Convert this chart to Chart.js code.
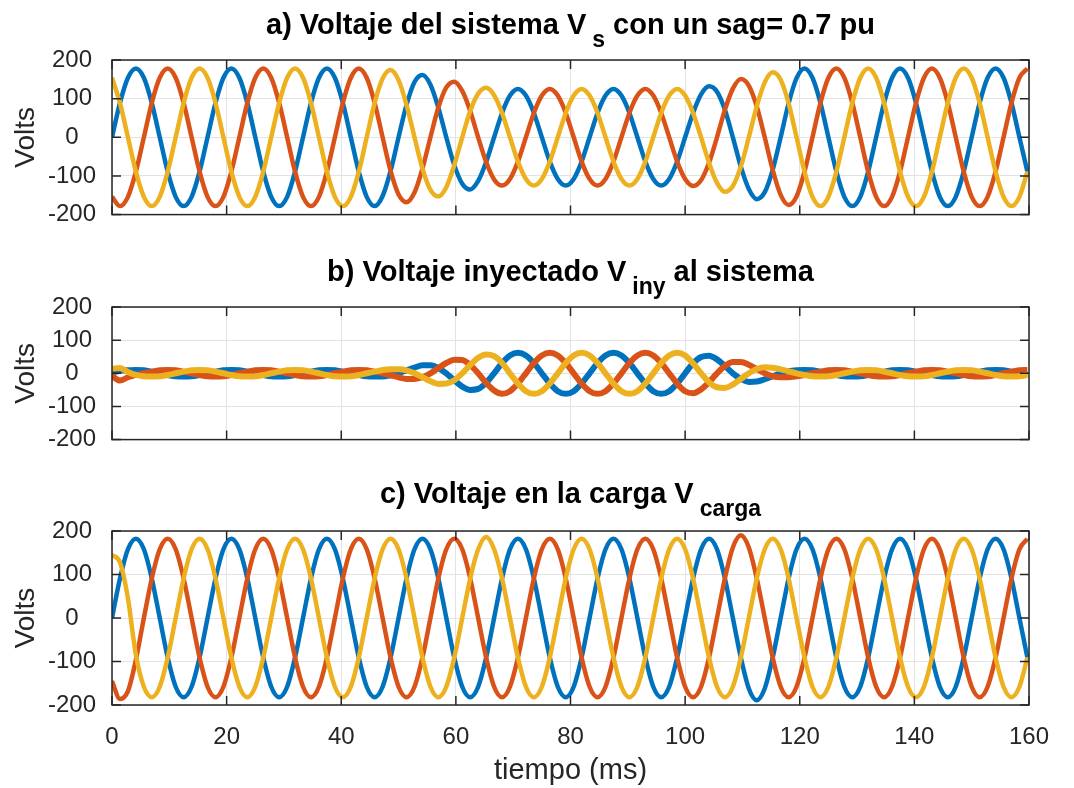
<!DOCTYPE html>
<html>
<head>
<meta charset="utf-8">
<script src="https://cdn.jsdelivr.net/npm/chart.js@4.4.1/dist/chart.umd.min.js"></script>
<style>
  body { margin: 0; background: #fff; }
  #wrap { position: relative; width: 1074px; height: 788px; overflow: hidden; }
  canvas { position: absolute; left: 0; }
  .ttl {
    position: absolute; left: 112px; width: 917px; text-align: center;
    font: bold 29px "Liberation Sans", Arial, sans-serif; line-height: 29px;
    color: #000; white-space: nowrap; z-index: 2;
  }
  .ttl sub { font-size: 23px; vertical-align: -13px; line-height: 0; margin-left: 6px; }
</style>
</head>
<body>
<div id="wrap">
  <div class="ttl" style="top:10px">a) Voltaje del sistema V<sub>s</sub> con un sag= 0.7 pu</div>
  <div class="ttl" style="top:257px">b) Voltaje inyectado V<sub>iny</sub> al sistema</div>
  <div class="ttl" style="top:479px">c) Voltaje en la carga V<sub>carga</sub></div>
  <canvas id="chartA" width="1074" height="245" style="top:0px"></canvas>
  <canvas id="chartB" width="1074" height="225" style="top:245px"></canvas>
  <canvas id="chartC" width="1074" height="318" style="top:470px"></canvas>
</div>
<script>
// time samples (ms), every 30 degrees of a 60 Hz cycle
const T = [0, 1.39, 2.78, 4.17, 5.56, 6.94, 8.33, 9.72, 11.11, 12.5, 13.89, 15.28,
  16.67, 18.06, 19.44, 20.83, 22.22, 23.61, 25, 26.39, 27.78, 29.17, 30.56, 31.94,
  33.33, 34.72, 36.11, 37.5, 38.89, 40.28, 41.67, 43.06, 44.44, 45.83, 47.22, 48.61,
  50, 51.39, 52.78, 54.17, 55.56, 56.94, 58.33, 59.72, 61.11, 62.5, 63.89, 65.28,
  66.67, 68.06, 69.44, 70.83, 72.22, 73.61, 75, 76.39, 77.78, 79.17, 80.56, 81.94,
  83.33, 84.72, 86.11, 87.5, 88.89, 90.28, 91.67, 93.06, 94.44, 95.83, 97.22, 98.61,
  100, 101.39, 102.78, 104.17, 105.56, 106.94, 108.33, 109.72, 111.11, 112.5, 113.89, 115.28,
  116.67, 118.06, 119.44, 120.83, 122.22, 123.61, 125, 126.39, 127.78, 129.17, 130.56, 131.94,
  133.33, 134.72, 136.11, 137.5, 138.89, 140.28, 141.67, 143.06, 144.44, 145.83, 147.22, 148.61,
  150, 151.39, 152.78, 154.17, 155.56, 156.94, 158.33, 159.72];

// a) source voltage (sag)
const vsA = [0, 89, 154, 178, 154, 89, 0, -89, -154, -178, -154, -89,
  0, 89, 154, 178, 154, 89, 0, -89, -154, -178, -154, -89,
  0, 89, 154, 178, 154, 89, 0, -89, -154, -178, -152, -87,
  0, 84, 143, 161, 136, 77, 0, -72, -120, -135, -113, -64,
  0, 63, 108, 125, 108, 63, 0, -63, -108, -125, -108, -63,
  0, 63, 108, 125, 108, 63, 0, -63, -108, -125, -108, -63,
  0, 63, 111, 132, 118, 71, 0, -76, -134, -160, -142, -84,
  0, 88, 153, 178, 154, 89, 0, -89, -154, -178, -154, -89,
  0, 89, 154, 178, 154, 89, 0, -89, -154, -178, -154, -89,
  0, 89, 154, 178, 154, 89, 0, -89];
const vsB = [-154, -178, -154, -89, 0, 89, 154, 178, 154, 89, 0, -89,
  -154, -178, -154, -89, 0, 89, 154, 178, 154, 89, 0, -89,
  -154, -178, -154, -89, 0, 89, 154, 178, 154, 89, 0, -87,
  -148, -168, -143, -81, 0, 77, 129, 144, 120, 68, 0, -64,
  -109, -125, -108, -63, 0, 63, 108, 125, 108, 63, 0, -63,
  -108, -125, -108, -63, 0, 63, 108, 125, 108, 63, 0, -63,
  -108, -126, -111, -66, 0, 71, 126, 151, 134, 80, 0, -84,
  -149, -175, -153, -89, 0, 89, 154, 178, 154, 89, 0, -89,
  -154, -178, -154, -89, 0, 89, 154, 178, 154, 89, 0, -89,
  -154, -178, -154, -89, 0, 89, 154, 178];
const vsC = [154, 89, 0, -89, -154, -178, -154, -89, 0, 89, 154, 178,
  154, 89, 0, -89, -154, -178, -154, -89, 0, 89, 154, 178,
  154, 89, 0, -89, -154, -178, -154, -89, 0, 89, 152, 174,
  148, 84, 0, -81, -136, -153, -129, -72, 0, 68, 113, 128,
  109, 63, 0, -63, -108, -125, -108, -63, 0, 63, 108, 125,
  108, 63, 0, -63, -108, -125, -108, -63, 0, 63, 108, 125,
  108, 63, 0, -66, -118, -141, -126, -76, 0, 80, 142, 168,
  149, 88, 0, -89, -154, -178, -154, -89, 0, 89, 154, 178,
  154, 89, 0, -89, -154, -178, -154, -89, 0, 89, 154, 178,
  154, 89, 0, -89, -154, -178, -154, -89];

// b) injected voltage
const viA = [2, 8, 9, 10, 9, 5, 0, -5, -9, -10, -9, -5,
  0, 5, 9, 10, 9, 5, 0, -5, -9, -10, -9, -5,
  0, 5, 9, 10, 9, 5, 0, -5, -9, -10, -10, -6,
  0, 9, 17, 24, 24, 16, 0, -21, -40, -50, -47, -29,
  0, 31, 54, 62, 54, 31, 0, -31, -54, -62, -54, -31,
  0, 31, 54, 62, 54, 31, 0, -31, -54, -62, -54, -31,
  0, 30, 49, 53, 42, 22, 0, -17, -26, -25, -18, -9,
  0, 6, 9, 10, 9, 5, 0, -5, -9, -10, -9, -5,
  0, 5, 9, 10, 9, 5, 0, -5, -9, -10, -9, -5,
  0, 5, 9, 10, 9, 5, 0, -5];
const viB = [-8, -22, -12, -5, 0, 5, 9, 10, 9, 5, 0, -5,
  -9, -10, -9, -5, 0, 5, 9, 10, 9, 5, 0, -5,
  -9, -10, -9, -5, 0, 5, 9, 10, 9, 5, 0, -6,
  -12, -17, -17, -12, 0, 16, 31, 41, 40, 25, 0, -29,
  -52, -62, -54, -31, 0, 31, 54, 62, 54, 31, 0, -31,
  -54, -62, -54, -31, 0, 31, 54, 62, 54, 31, 0, -31,
  -54, -60, -49, -27, 0, 22, 34, 34, 26, 13, 0, -9,
  -12, -12, -9, -5, 0, 5, 9, 10, 9, 5, 0, -5,
  -9, -10, -9, -5, 0, 5, 9, 10, 9, 5, 0, -5,
  -9, -10, -9, -5, 0, 5, 9, 10];
const viC = [14, 16, 4, -5, -9, -10, -9, -5, 0, 5, 9, 10,
  9, 5, 0, -5, -9, -10, -9, -5, 0, 5, 9, 10,
  9, 5, 0, -5, -9, -10, -9, -5, 0, 5, 10, 12,
  12, 9, 0, -12, -24, -32, -31, -21, 0, 25, 47, 57,
  52, 31, 0, -31, -54, -62, -54, -31, 0, 31, 54, 62,
  54, 31, 0, -31, -54, -62, -54, -31, 0, 31, 54, 62,
  54, 30, 0, -27, -42, -44, -34, -17, 0, 13, 18, 17,
  12, 6, 0, -5, -9, -10, -9, -5, 0, 5, 9, 10,
  9, 5, 0, -5, -9, -10, -9, -5, 0, 5, 9, 10,
  9, 5, 0, -5, -9, -10, -9, -5];

// c) load voltage
const vlA = [0, 91, 158, 182, 158, 91, 0, -91, -158, -182, -158, -91,
  0, 91, 158, 182, 158, 91, 0, -91, -158, -182, -158, -91,
  0, 91, 158, 182, 158, 91, 0, -91, -158, -182, -158, -91,
  0, 91, 158, 182, 158, 91, 0, -91, -158, -182, -158, -91,
  0, 91, 158, 182, 158, 91, 0, -91, -158, -182, -158, -91,
  0, 91, 158, 182, 158, 91, 0, -91, -158, -182, -158, -91,
  0, 91, 158, 182, 158, 91, 0, -91, -162, -189, -162, -91,
  0, 91, 158, 182, 158, 91, 0, -91, -158, -182, -158, -91,
  0, 91, 158, 182, 158, 91, 0, -91, -158, -182, -158, -91,
  0, 91, 158, 182, 158, 91, 0, -91];
const vlB = [-145, -186, -168, -96, 0, 91, 158, 182, 158, 91, 0, -91,
  -158, -182, -158, -91, 0, 91, 158, 182, 158, 91, 0, -91,
  -158, -182, -158, -91, 0, 91, 158, 182, 158, 91, 0, -91,
  -158, -182, -158, -91, 0, 91, 158, 182, 158, 91, 0, -91,
  -158, -182, -158, -91, 0, 91, 158, 182, 158, 91, 0, -91,
  -158, -182, -158, -91, 0, 91, 158, 182, 158, 91, 0, -91,
  -158, -182, -158, -91, 0, 91, 162, 190, 162, 91, 0, -91,
  -158, -182, -158, -91, 0, 91, 158, 182, 158, 91, 0, -91,
  -158, -182, -158, -91, 0, 91, 158, 182, 158, 91, 0, -91,
  -158, -182, -158, -91, 0, 91, 158, 182];
const vlC = [145, 128, 45, -85, -158, -182, -158, -91, 0, 91, 158, 182,
  158, 91, 0, -91, -158, -182, -158, -91, 0, 91, 158, 182,
  158, 91, 0, -91, -158, -182, -158, -91, 0, 91, 158, 182,
  158, 91, 0, -91, -158, -182, -158, -91, 0, 91, 158, 186,
  158, 91, 0, -91, -158, -182, -158, -91, 0, 91, 158, 182,
  158, 91, 0, -91, -158, -182, -158, -91, 0, 91, 158, 182,
  158, 91, 0, -91, -158, -182, -158, -91, 0, 91, 158, 182,
  158, 91, 0, -91, -158, -182, -158, -91, 0, 91, 158, 182,
  158, 91, 0, -91, -158, -182, -158, -91, 0, 91, 158, 182,
  158, 91, 0, -91, -158, -182, -158, -91];

const xTicks = [0, 20, 40, 60, 80, 100, 120, 140, 160];
const yTicks = [-200, -100, 0, 100, 200];

const COLORS = ['#0072BD', '#D95319', '#EDB120'];
const TICK_LEN = 9;

Chart.defaults.font.family = '"Liberation Sans", Arial, sans-serif';
Chart.defaults.color = '#262626';

// MATLAB style box with inward ticks on all four sides
const boxPlugin = {
  id: 'matlabBox',
  afterDraw(chart) {
    const { ctx, chartArea: a, scales: { x, y } } = chart;
    ctx.save();
    ctx.strokeStyle = '#262626';
    ctx.lineWidth = 1.5;
    ctx.beginPath();
    xTicks.forEach(v => {
      const px = x.getPixelForValue(v);
      ctx.moveTo(px, a.bottom); ctx.lineTo(px, a.bottom - TICK_LEN);
      ctx.moveTo(px, a.top); ctx.lineTo(px, a.top + TICK_LEN);
    });
    yTicks.forEach(v => {
      const py = y.getPixelForValue(v);
      ctx.moveTo(a.left, py); ctx.lineTo(a.left + TICK_LEN, py);
      ctx.moveTo(a.right, py); ctx.lineTo(a.right - TICK_LEN, py);
    });
    ctx.stroke();
    ctx.strokeRect(a.left, a.top, a.right - a.left, a.bottom - a.top);
    ctx.restore();
  }
};

function makeChart(id, series, opts) {
  const datasets = series.map((vals, i) => ({
    data: vals.map((v, k) => ({ x: T[k], y: v })),
    borderColor: COLORS[i],
    backgroundColor: COLORS[i],
    borderWidth: opts.lineWidth,
    pointRadius: 0,
    cubicInterpolationMode: 'monotone',
    order: 3 - i,
    fill: false
  }));
  return new Chart(document.getElementById(id), {
    type: 'line',
    data: { datasets },
    options: {
      responsive: false,
      animation: false,
      devicePixelRatio: 1,
      layout: { padding: { left: 0, right: 45, top: opts.top, bottom: opts.bottom } },
      plugins: { legend: { display: false }, tooltip: { enabled: false } },
      scales: {
        x: {
          type: 'linear', min: 0, max: 160,
          afterBuildTicks: s => { s.ticks = xTicks.map(v => ({ value: v })); },
          afterFit: s => { s.height = opts.xHeight; },
          grid: { color: '#e3e3e3', drawTicks: false },
          border: { display: false },
          ticks: { display: opts.xLabels, padding: 18, font: { size: 24 }, maxRotation: 0 },
          title: {
            display: opts.xLabels, text: 'tiempo (ms)',
            font: { size: 29 }, padding: { top: 0, bottom: 0 }
          }
        },
        y: {
          min: -200, max: 200,
          afterBuildTicks: s => { s.ticks = yTicks.map(v => ({ value: v })); },
          afterFit: s => { s.width = 112; },
          grid: { color: '#e3e3e3', drawTicks: false },
          border: { display: false },
          ticks: { padding: 16, crossAlign: 'center', font: { size: 24 } },
          title: { display: true, text: 'Volts', font: { size: 28 }, padding: { top: 9, bottom: 0 } }
        }
      }
    },
    plugins: [boxPlugin]
  });
}

makeChart('chartA', [vsA, vsB, vsC], { top: 60, bottom: 17, xHeight: 0, xLabels: false, lineWidth: 4.5 });
makeChart('chartB', [viA, viB, viC], { top: 62, bottom: 14, xHeight: 0, xLabels: false, lineWidth: 6 });
makeChart('chartC', [vlA, vlB, vlC], { top: 61, bottom: 0, xHeight: 83, xLabels: true, lineWidth: 4.5 });
</script>
</body>
</html>
